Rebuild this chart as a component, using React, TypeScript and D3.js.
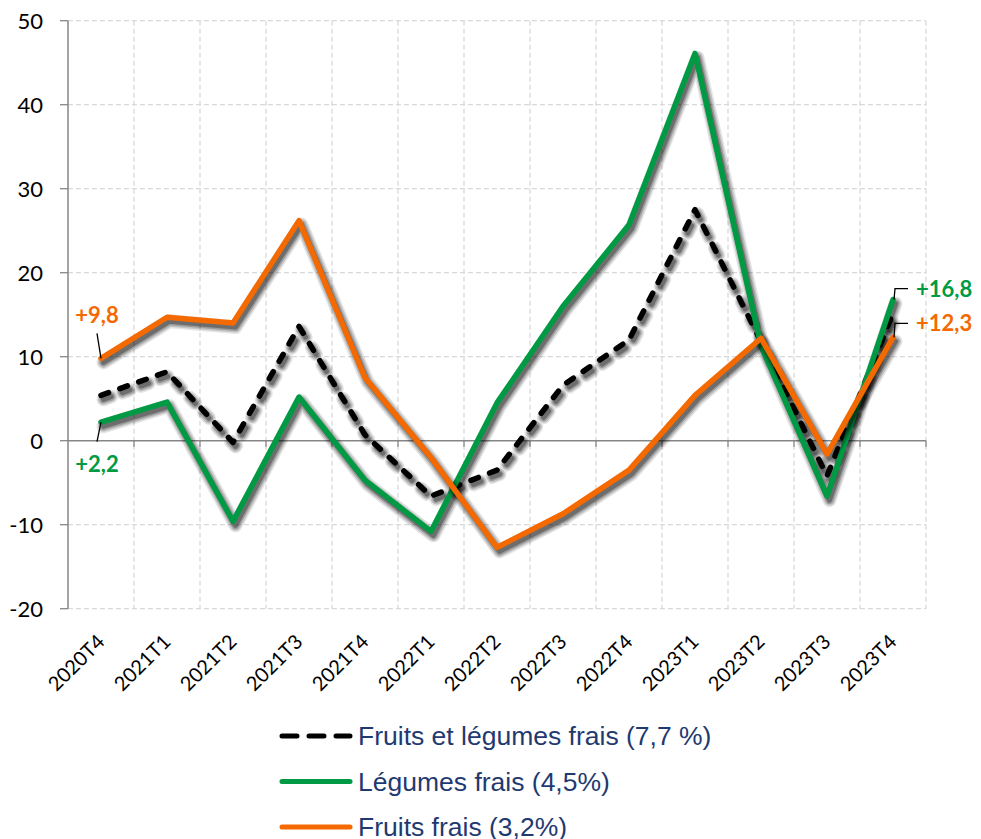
import React from "react";
import * as d3 from "d3";

const categories = ["2020T4","2021T1","2021T2","2021T3","2021T4","2022T1","2022T2","2022T3","2022T4","2023T1","2023T2","2023T3","2023T4"];
const fruitsLegumes = [5.4, 8.2, -0.2, 13.6, 0.7, -6.6, -3.5, 6.6, 12.0, 27.5, 11.8, -4.2, 15.2];
const legumes = [2.2, 4.6, -9.6, 5.2, -4.7, -10.8, 4.5, 16.0, 25.7, 46.1, 11.3, -6.6, 16.8];
const fruits = [9.8, 14.7, 14.0, 26.2, 7.5, -2.0, -12.7, -8.7, -3.5, 5.4, 12.2, -1.6, 12.3];
const yTicks = [-20, -10, 0, 10, 20, 30, 40, 50];
const seriesNames = ["Fruits et légumes frais (7,7 %)", "Légumes frais (4,5%)", "Fruits frais (3,2%)"];
const annotations = [
  { series: 2, index: 0, text: "+9,8" },
  { series: 1, index: 0, text: "+2,2" },
  { series: 1, index: 12, text: "+16,8" },
  { series: 2, index: 12, text: "+12,3" },
];

const COLORS = ["#000000", "#009a44", "#f56a00"];
const DASHES = ["8 12", null, null];
const SHADOW_LAYERS = [
  { w: 14, o: 0.1 },
  { w: 11, o: 0.15 },
  { w: 8, o: 0.2 },
  { w: 5, o: 0.3 },
];

export default function App() {
  const W = 981, H = 839;
  const x = d3.scaleBand<string>().domain(categories).range([68, 926]).padding(0);
  const y = d3.scaleLinear().domain([-20, 50]).range([608.7, 20.7]);
  const cx = (i: number) => (x(categories[i]) as number) + x.bandwidth() / 2;
  const data = [fruitsLegumes, legumes, fruits];
  const line = d3.line<number>().x((_, i) => cx(i)).y((v) => y(v));
  const bounds = categories.map((c) => (x(c) as number) + x.bandwidth());
  const labelFont = "Lato, 'Open Sans', sans-serif";

  const renderAnnotation = (a: typeof annotations[number], k: number) => {
    const px = cx(a.index);
    const py = y(data[a.series][a.index]);
    const col = COLORS[a.series];
    if (a.index === 0) {
      const above = a.series === 2;
      return (
        <g key={k}>
          {above ? (
            <line x1={px - 4} y1={py - 25} x2={px} y2={py} stroke="#000" strokeWidth={1.3} />
          ) : (
            <line x1={px} y1={py} x2={px - 4} y2={py + 19.5} stroke="#000" strokeWidth={1.3} />
          )}
          <text x={px - 4} y={above ? py - 35 : py + 50} textAnchor="middle" fill={col}
            fontFamily={labelFont} fontWeight="bold" fontSize={22}>{a.text}</text>
        </g>
      );
    }
    const ly = a.series === 1 ? py - 11 : py - 14;
    return (
      <g key={k}>
        <polyline points={`${px + 1},${py} ${px + 2},${ly} ${px + 15},${ly}`} fill="none" stroke="#000" strokeWidth={1.3} />
        <text x={px + 23} y={ly + 8} fill={col} fontFamily={labelFont} fontWeight="bold" fontSize={22}>{a.text}</text>
      </g>
    );
  };

  return (
    <svg width={W} height={H} style={{ position: "absolute", left: 0, top: 0, background: "#fff" }}>
      {yTicks.filter((t) => t !== 0).map((t) => (
        <line key={"h" + t} x1={68} x2={926} y1={y(t)} y2={y(t)} stroke="#d9d9d9" strokeWidth={1.3} strokeDasharray="5 3" />
      ))}
      {bounds.map((bx, i) => (
        <line key={"v" + i} x1={bx} x2={bx} y1={y(50)} y2={y(-20)} stroke="#d9d9d9" strokeWidth={1.3} strokeDasharray="5 3" />
      ))}
      <line x1={68} x2={926} y1={y(0)} y2={y(0)} stroke="#868686" strokeWidth={1.5} />
      {bounds.map((bx, i) => (
        <line key={"zt" + i} x1={bx} x2={bx} y1={y(0)} y2={y(0) + 6} stroke="#868686" strokeWidth={1.3} />
      ))}
      <line x1={68} x2={68} y1={y(50)} y2={y(-20)} stroke="#868686" strokeWidth={1.5} />
      {yTicks.map((t) => (
        <g key={"yt" + t}>
          <line x1={60} x2={68} y1={y(t)} y2={y(t)} stroke="#868686" strokeWidth={1.3} />
          <text x={43} y={y(t)} dy="0.36em" textAnchor="end" fontFamily={labelFont} fontSize={22} fill="#000">{t}</text>
        </g>
      ))}
      {categories.map((c, i) => (
        <text key={"xl" + c} transform={`translate(${cx(i)},638) rotate(-45)`} dy="0.35em" textAnchor="end"
          fontFamily={labelFont} fontSize={20} fill="#000">{c}</text>
      ))}
      {data.map((d, s) => (
        <g key={"s" + s}>
          <g transform="translate(2.5,4)">
            {SHADOW_LAYERS.map((l, j) => (
              <path key={j} d={line(d) as string} fill="none" stroke="#000" strokeOpacity={l.o} strokeWidth={l.w}
                strokeLinejoin="round" strokeLinecap="round" strokeDasharray={DASHES[s] ?? undefined} />
            ))}
          </g>
          <path d={line(d) as string} fill="none" stroke={COLORS[s]} strokeWidth={5.5}
            strokeLinejoin="round" strokeLinecap="round" strokeDasharray={DASHES[s] ?? undefined} />
        </g>
      ))}
      {annotations.map(renderAnnotation)}
      {seriesNames.map((n, s) => {
        const ly = [736, 781.5, 827][s];
        return (
          <g key={"lg" + s}>
            <line x1={282} x2={350} y1={ly} y2={ly} stroke={COLORS[s]} strokeWidth={5} strokeLinecap="round"
              strokeDasharray={s === 0 ? "15 12" : undefined} />
            <text x={358} y={ly} dy="0.35em" fontFamily="'Liberation Sans', Arial, sans-serif" fontSize={26.5} fill="#1f3a70">{n}</text>
          </g>
        );
      })}
    </svg>
  );
}
